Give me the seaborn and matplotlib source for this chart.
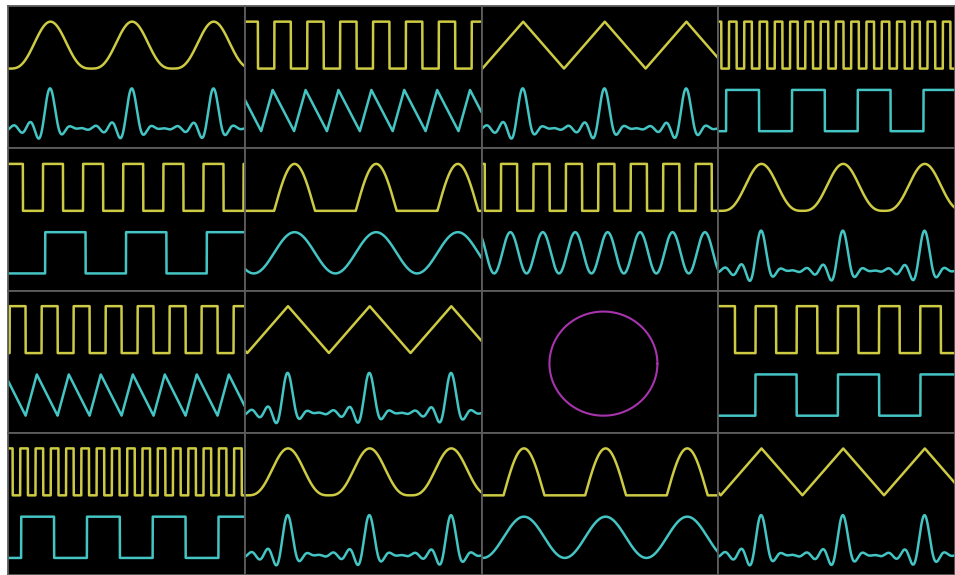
import numpy as np
import pandas as pd
import matplotlib
matplotlib.use("Agg")
import matplotlib.pyplot as plt
import seaborn as sns

# 4x4 scope panels, listed row by row (None = XY mode panel)
top_shape = ["peak", "square", "triangle", "square",
             "square", "halfsine", "square", "peak",
             "square", "triangle", None, "square",
             "square", "peak", "halfsine", "triangle"]
top_cycles = [2.9, 7.2, 2.9, 15.5,
              5.9, 2.9, 7.3, 2.9,
              7.4, 2.9, 0, 5.75,
              15.5, 2.9, 2.9, 2.9]
top_phase = [-0.02, 0.1, -0.01, 0.3,
             0.13, -0.11, 0.4, -0.03,
             -0.05, -0.03, 0, 0.095,
             0.2, -0.03, -0.02, -0.03]

bottom_shape = ["sinc", "saw", "sinc", "square",
                "square", "sine", "sine", "sinc",
                "saw", "sinc", None, "square",
                "square", "sinc", "sine", "sinc"]
bottom_cycles = [2.9, 7.2, 2.9, 3.6,
                 2.93, 2.9, 7.3, 2.9,
                 7.4, 2.9, 0, 2.87,
                 3.6, 2.9, 2.9, 2.9]
bottom_phase = [-0.02, -0.5, -0.01, -0.12,
                0.54, -0.11, -0.39, -0.03,
                -0.55, -0.03, 0, 0.55,
                -0.2, -0.03, -0.02, -0.03]

# XY panel: circle centre and radius (axes fraction)
circle_panel = 10
circle_center = [0.515, 0.486]
circle_radius = [0.228, 0.366]

YELLOW = "#cdca44"
CYAN = "#45c4c4"
MAGENTA = "#a834ad"
GRID = "#5c5c5c"


def wave(shape, t, cycles, phase):
    u = t * cycles + phase
    f = np.mod(u, 1.0)
    if shape == "square":
        return (f < 0.5).astype(float)
    if shape == "triangle":
        return 1 - np.abs(2 * f - 1)
    if shape == "peak":
        return ((1 - np.cos(2 * np.pi * f)) / 2) ** 1.5
    if shape == "halfsine":
        return np.clip(-np.cos(2 * np.pi * f), 0, None)
    if shape == "sine":
        return (1 - np.cos(2 * np.pi * f)) / 2
    if shape == "saw":
        r = 0.35
        return np.where(f < r, f / r, (1 - f) / (1 - r))
    if shape == "sinc":
        d = u - 0.5
        return sum(np.sinc((d - k) * 10) for k in range(-3, 20))
    return np.zeros_like(t)


sns.set_style("dark")
fig = plt.figure(figsize=(9.55, 5.75), dpi=100, facecolor="white")
gs = fig.add_gridspec(4, 4, left=8 / 955, right=1, bottom=0, top=1 - 6 / 575,
                      hspace=0, wspace=0)

t = np.linspace(0, 1, 3000)
for i in range(16):
    ax = fig.add_subplot(gs[i // 4, i % 4])
    ax.set_facecolor("black")
    if i == circle_panel:
        th = np.linspace(0, 2 * np.pi, 400)
        df = pd.DataFrame({"x": circle_center[0] + circle_radius[0] * np.cos(th),
                           "y": circle_center[1] + circle_radius[1] * np.sin(th)})
        sns.lineplot(data=df, x="x", y="y", ax=ax, color=MAGENTA, linewidth=1.5,
                     sort=False, estimator=None)
    else:
        yt = 0.56 + 0.33 * wave(top_shape[i], t, top_cycles[i], top_phase[i])
        if bottom_shape[i] == "sinc":
            yb = 0.14 + 0.28 * wave("sinc", t, bottom_cycles[i], bottom_phase[i])
        else:
            yb = 0.12 + 0.29 * wave(bottom_shape[i], t, bottom_cycles[i], bottom_phase[i])
        sns.lineplot(x=t, y=yt, ax=ax, color=YELLOW, linewidth=1.8,
                     sort=False, estimator=None)
        sns.lineplot(x=t, y=yb, ax=ax, color=CYAN, linewidth=1.8,
                     sort=False, estimator=None)
    ax.set_xlim(0, 1)
    ax.set_ylim(0, 1)
    ax.set_xticks([])
    ax.set_yticks([])
    ax.set_xlabel("")
    ax.set_ylabel("")
    ax.grid(False)
    for s in ax.spines.values():
        s.set_visible(True)
        s.set_color(GRID)
        s.set_linewidth(1.3)

fig.savefig("out.png", dpi=100, facecolor="white")
